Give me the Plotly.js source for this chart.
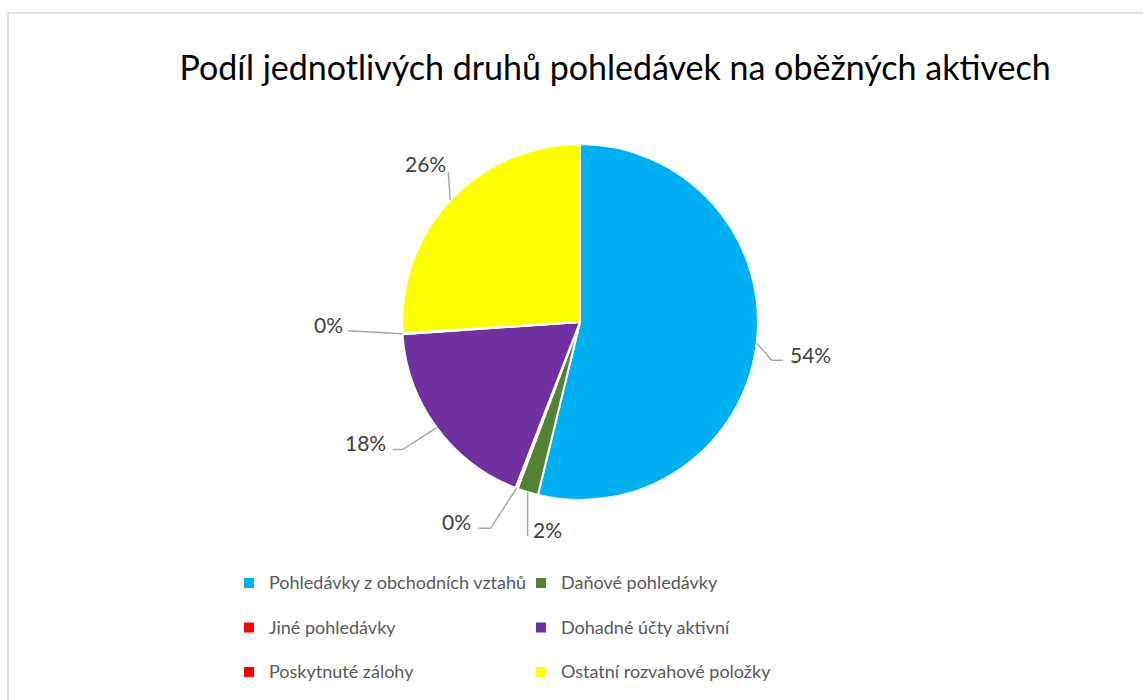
<!DOCTYPE html>
<html><head><meta charset="utf-8">
<script src="https://cdn.plot.ly/plotly-3.0.1.min.js"></script>
<style>html,body{margin:0;padding:0;background:#fff}#chart{width:1143px;height:700px}</style>
</head><body><div id="chart"></div>
<script>
// ---- data ----
const categories = [
  'Pohledávky z obchodních vztahů',
  'Daňové pohledávky',
  'Jiné pohledávky',
  'Dohadné účty aktivní',
  'Poskytnuté zálohy',
  'Ostatní rozvahové položky'
];
const shares = [53.8, 1.9, 0.2, 18.0, 0.1, 26.0];
const colors = ['#00B0F0', '#548235', '#FF0000', '#7030A0', '#FF0000', '#FFFF00'];
const chartTitle = 'Podíl jednotlivých druhů pohledávek na oběžných aktivech';

// ---- layout helpers (pixel geometry, not data) ----
const W = 1143, H = 700;
const M = {l: 200, r: 300, t: 0, b: 0, autoexpand: false};
const PW = W - M.l - M.r, PH = H - M.t - M.b;
const pie = {cx: 580, cy: 322, r: 178};
const px2x = p => (p - M.l) / PW;
const py2y = p => 1 - (p - M.t) / PH;

// leader line geometry per slice: elbow/end offsets from rim point, label offset & anchor
const leaderGeom = [
  {elbow: [15, 17], end: [26, 17], lab: [31, 11], anchor: 'left'},
  {elbow: [0, 44], end: [0, 44], lab: [3, 37], anchor: 'left'},
  {elbow: [-26, 40], end: [-38, 40], lab: [-44, 33], anchor: 'right'},
  {elbow: [-34, 22], end: [-44, 22], lab: [-49, 15], anchor: 'right'},
  {elbow: [-54, -3], end: [-54, -3], lab: [-57, -9], anchor: 'right'},
  {elbow: [-2, -28], end: [-2, -28], lab: [-25, -37], anchor: 'center'}
];

const total = shares.reduce((a, b) => a + b, 0);
const annotations = [];
const shapes = [{
  type: 'rect', xref: 'paper', yref: 'paper', layer: 'below',
  x0: px2x(8), x1: px2x(1170), y0: py2y(725), y1: py2y(13),
  line: {color: '#D9D9D9', width: 1.5}, fillcolor: 'rgba(0,0,0,0)'
}];
let cum = 0;
shares.forEach((v, i) => {
  const mid = 2 * Math.PI * (cum + v / 2) / total;
  cum += v;
  const ex = pie.cx + pie.r * Math.sin(mid);
  const ey = pie.cy - pie.r * Math.cos(mid);
  const g = leaderGeom[i];
  const pts = [[ex, ey], [ex + g.elbow[0], ey + g.elbow[1]], [ex + g.end[0], ey + g.end[1]]];
  const path = pts.map((p, k) => (k ? 'L' : 'M') + px2x(p[0]).toFixed(5) + ',' + py2y(p[1]).toFixed(5)).join(' ');
  shapes.push({type: 'path', xref: 'paper', yref: 'paper', path: path,
    line: {color: '#A6A6A6', width: 1.5}});
  annotations.push({
    xref: 'paper', yref: 'paper', showarrow: false,
    x: px2x(ex + g.lab[0]), y: py2y(ey + g.lab[1]),
    xanchor: g.anchor, yanchor: 'middle',
    text: Math.round(v / total * 100) + '%',
    font: {family: 'Lato, sans-serif', size: 21, color: '#404040'}
  });
});

const legendLabels = categories.map(c => '<span style="font-size:18px">' + c + '</span><br>\u00A0');

const trace = {
  type: 'pie',
  labels: legendLabels,
  values: shares,
  sort: false,
  direction: 'clockwise',
  rotation: 0,
  textinfo: 'none',
  hoverinfo: 'percent',
  marker: {colors: colors, line: {color: '#FFFFFF', width: 2}},
  domain: {x: [px2x(pie.cx - pie.r), px2x(pie.cx + pie.r)], y: [py2y(pie.cy + pie.r), py2y(pie.cy - pie.r)]}
};

const layout = {
  width: W, height: H,
  margin: M,
  paper_bgcolor: '#FFFFFF', plot_bgcolor: '#FFFFFF',
  title: {text: chartTitle, xref: 'container', yref: 'container', x: 615 / W, y: 1 - 68 / H,
    xanchor: 'center', yanchor: 'middle',
    font: {family: 'Lato, sans-serif', size: 34, color: '#000000'}},
  showlegend: true,
  legend: {orientation: 'h', x: px2x(229), xanchor: 'left', y: py2y(566), yanchor: 'top',
    entrywidth: 247, entrywidthmode: 'pixels', valign: 'top', traceorder: 'normal',
    font: {family: 'Lato, sans-serif', size: 16, color: '#595959'}, bgcolor: 'rgba(0,0,0,0)'},
  annotations: annotations,
  shapes: shapes
};

Plotly.newPlot('chart', [trace], layout, {displayModeBar: false, staticPlot: true});
</script>
</body></html>
